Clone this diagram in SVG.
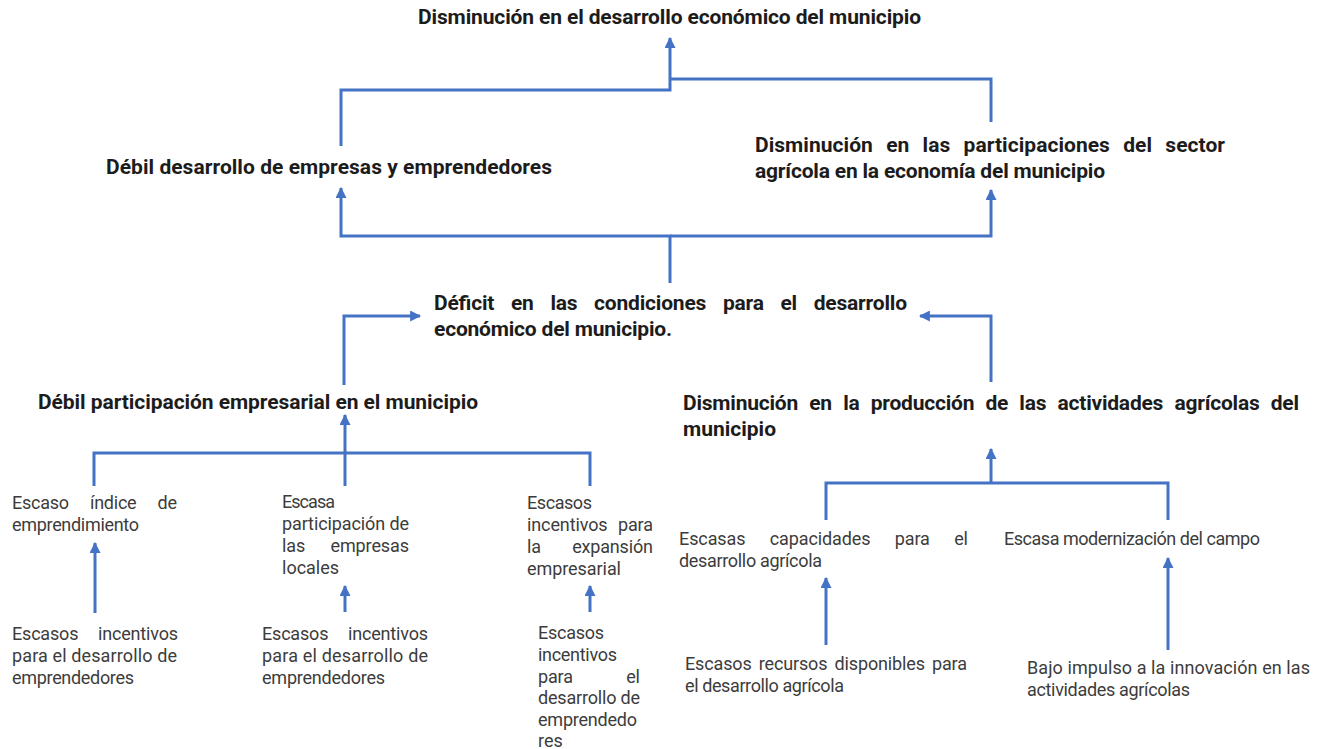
<svg xmlns="http://www.w3.org/2000/svg" width="1323" height="749" viewBox="0 0 1323 749">
<defs>
<style>
.b{font-family:Roboto,"Liberation Sans",sans-serif;font-weight:bold;font-size:21px;fill:#1c1c1c}
.r{font-family:Roboto,"Liberation Sans",sans-serif;font-size:18px;fill:#3c3c3c}
.c{fill:none;stroke:#4472C4;stroke-width:3}
</style>
<marker id="ah" viewBox="0 0 10 10" refX="9" refY="5" markerWidth="11" markerHeight="11" markerUnits="userSpaceOnUse" orient="auto">
<path d="M0,0 L10,5 L0,10 z" fill="#4472C4"/>
</marker>
</defs>
<rect width="1323" height="749" fill="#ffffff"/>

<g id="connectors">
<path class="c" d="M341,146 V90 H670 V38" marker-end="url(#ah)"/>
<path class="c" d="M991,122 V79 H670"/>
<path class="c" d="M670,283 V236 H341 V188" marker-end="url(#ah)"/>
<path class="c" d="M670,236 H991 V190" marker-end="url(#ah)"/>
<path class="c" d="M344,385 V316 H420" marker-end="url(#ah)"/>
<path class="c" d="M991,382 V316 H920" marker-end="url(#ah)"/>
<path class="c" d="M345,486 V415" marker-end="url(#ah)"/>
<path class="c" d="M94,486 V453 H590 V486"/>
<path class="c" d="M95,613 V543" marker-end="url(#ah)"/>
<path class="c" d="M345,612 V586" marker-end="url(#ah)"/>
<path class="c" d="M590,612 V586" marker-end="url(#ah)"/>
<path class="c" d="M991,483 V449" marker-end="url(#ah)"/>
<path class="c" d="M826,520 V483 H1168 V520"/>
<path class="c" d="M826,645 V578" marker-end="url(#ah)"/>
<path class="c" d="M1168,650 V558" marker-end="url(#ah)"/>
</g>

<g id="n-top">
<text class="b" x="418" y="24" textLength="503" lengthAdjust="spacing">Disminución en el desarrollo económico del municipio</text>
</g>

<g id="n-debil-desarrollo">
<text class="b" x="106" y="174" textLength="446" lengthAdjust="spacing">Débil desarrollo de empresas y emprendedores</text>
</g>

<g id="n-disminucion-participaciones">
<text class="b" x="755" y="152" textLength="470" lengthAdjust="spacing" word-spacing="8">Disminución en las participaciones del sector</text>
<text class="b" x="755" y="178" textLength="350" lengthAdjust="spacing">agrícola en la economía del municipio</text>
</g>

<g id="n-deficit">
<text class="b" x="434" y="310" textLength="473" lengthAdjust="spacing" word-spacing="11.7">Déficit en las condiciones para el desarrollo</text>
<text class="b" x="434" y="336" textLength="238" lengthAdjust="spacing">económico del municipio.</text>
</g>

<g id="n-debil-participacion">
<text class="b" x="38" y="409" textLength="440" lengthAdjust="spacing">Débil participación empresarial en el municipio</text>
</g>

<g id="n-disminucion-produccion">
<text class="b" x="683" y="410" textLength="616" lengthAdjust="spacing" word-spacing="6.2">Disminución en la producción de las actividades agrícolas del</text>
<text class="b" x="683" y="436">municipio</text>
</g>

<g id="n-escaso-indice">
<text class="r" x="12" y="509" textLength="165" lengthAdjust="spacing" word-spacing="17">Escaso índice de</text>
<text class="r" x="12" y="531" textLength="127" lengthAdjust="spacing">emprendimiento</text>
</g>

<g id="n-escasa-participacion">
<text class="r" x="282" y="508" textLength="53" lengthAdjust="spacing">Escasa</text>
<text class="r" x="282" y="530" textLength="127" lengthAdjust="spacing">participación de</text>
<text class="r" x="282" y="552" textLength="127" lengthAdjust="spacing" word-spacing="21">las empresas</text>
<text class="r" x="282" y="574">locales</text>
</g>

<g id="n-escasos-expansion">
<text class="r" x="527" y="509" textLength="65" lengthAdjust="spacing">Escasos</text>
<text class="r" x="527" y="531" textLength="126" lengthAdjust="spacing" word-spacing="6">incentivos para</text>
<text class="r" x="527" y="553" textLength="126" lengthAdjust="spacing" word-spacing="27">la expansión</text>
<text class="r" x="527" y="575" textLength="94" lengthAdjust="spacing">empresarial</text>
</g>

<g id="n-escasos-incentivos-1">
<text class="r" x="12" y="640" textLength="166" lengthAdjust="spacing" word-spacing="15.5">Escasos incentivos</text>
<text class="r" x="12" y="662" textLength="165" lengthAdjust="spacing">para el desarrollo de</text>
<text class="r" x="12" y="684" textLength="122" lengthAdjust="spacing">emprendedores</text>
</g>

<g id="n-escasos-incentivos-2">
<text class="r" x="262" y="640" textLength="166" lengthAdjust="spacing" word-spacing="15.5">Escasos incentivos</text>
<text class="r" x="262" y="662" textLength="166" lengthAdjust="spacing">para el desarrollo de</text>
<text class="r" x="262" y="684" textLength="123" lengthAdjust="spacing">emprendedores</text>
</g>

<g id="n-escasos-incentivos-3">
<text class="r" x="538" y="639" textLength="66" lengthAdjust="spacing">Escasos</text>
<text class="r" x="538" y="661" textLength="79" lengthAdjust="spacing">incentivos</text>
<text class="r" x="538" y="683" textLength="102" lengthAdjust="spacing" word-spacing="49">para el</text>
<text class="r" x="538" y="704" textLength="102" lengthAdjust="spacing">desarrollo de</text>
<text class="r" x="538" y="726" textLength="99" lengthAdjust="spacing">emprendedo</text>
<text class="r" x="538" y="747">res</text>
</g>

<g id="n-escasas-capacidades">
<text class="r" x="679" y="545" textLength="289" lengthAdjust="spacing" word-spacing="20">Escasas capacidades para el</text>
<text class="r" x="679" y="567" textLength="143" lengthAdjust="spacing">desarrollo agrícola</text>
</g>

<g id="n-escasa-modernizacion">
<text class="r" x="1004" y="545" textLength="256" lengthAdjust="spacing">Escasa modernización del campo</text>
</g>

<g id="n-escasos-recursos">
<text class="r" x="685" y="670" textLength="282" lengthAdjust="spacing" word-spacing="2.8">Escasos recursos disponibles para</text>
<text class="r" x="685" y="692" textLength="159" lengthAdjust="spacing">el desarrollo agrícola</text>
</g>

<g id="n-bajo-impulso">
<text class="r" x="1027" y="674" textLength="283" lengthAdjust="spacing">Bajo impulso a la innovación en las</text>
<text class="r" x="1027" y="696" textLength="163" lengthAdjust="spacing">actividades agrícolas</text>
</g>
</svg>
